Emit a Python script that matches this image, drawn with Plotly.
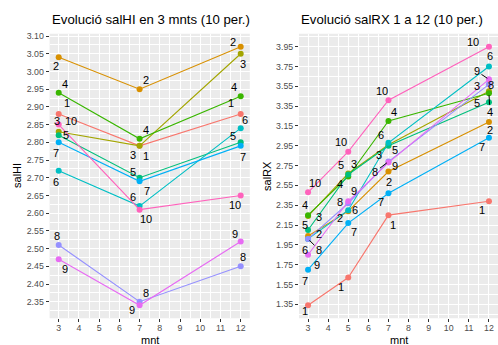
import plotly.graph_objects as go

# ---------------- data ----------------
persons = ['1', '2', '3', '4', '5', '6', '7', '8', '9', '10']
months_hi = [3, 7, 12]
months_rx = [3, 5, 7, 12]

salHI_m3 = [2.88, 3.04, 2.83, 2.94, 2.82, 2.72, 2.80, 2.51, 2.47, 2.85]
salHI_m7 = [2.79, 2.95, 2.79, 2.81, 2.70, 2.62, 2.69, 2.35, 2.34, 2.61]
salHI_m12 = [2.88, 3.07, 3.05, 2.93, 2.80, 2.84, 2.79, 2.45, 2.52, 2.65]

salRX_m3 = [1.34, 2.04, 2.24, 2.25, 2.10, 2.01, 1.70, 2.01, 1.85, 2.48]
salRX_m5 = [1.62, 2.29, 2.67, 2.64, 2.66, 2.30, 2.17, 2.37, 2.39, 2.89]
salRX_m7 = [2.25, 2.69, 2.96, 3.20, 2.95, 2.98, 2.47, 2.79, 2.78, 3.41]
salRX_m12 = [2.39, 3.19, 3.50, 3.48, 3.39, 3.75, 3.03, 3.57, 3.62, 3.95]

title_hi = 'Evolució salHI en 3 mnts (10 per.)'
title_rx = 'Evolució salRX 1 a 12 (10 per.)'

# ---------------- styles ----------------
colors = ['#F8766D', '#D89000', '#A3A500', '#39B600', '#00BF7D',
          '#00BFC4', '#00B0F6', '#9590FF', '#E76BF3', '#FF62BC']
FONT = 'Liberation Sans, Arial, Helvetica, sans-serif'
W, H = 498, 345

# label offsets in pixels (dx right, dy down), per month, per person (repel-like)
off_hi = [
    [(8, -11), (-3, 9), (-2, -11), (6, -9), (7, 0), (-3, 11), (-3, 11), (-2, -9), (6, 10), (12, -4)],
    [(6, 10), (6, -9), (-7, 9), (6, -9), (-7, -6), (-7, -9), (7, 10), (6, -9), (-8, 5), (6, 9)],
    [(-10, -11), (-8, -5), (2, 10), (-7, -9), (-8, -6), (4, -8), (2, 11), (2, -9), (-6, -8), (-6, 10)],
]
off_rx = [
    [(-3, 6), (11, -2), (11, 1), (-3, -10), (-3, -5), (-3, 11), (-3, 11), (11, 11), (9, 10), (7, -9)],
    [(-7, 9), (-8, 7), (6, -10), (-8, 8), (-7, -10), (7, 0), (6, 9), (-8, -1), (6, -10), (-7, -10)],
    [(5, 10), (1, 10), (-9, 10), (6, -9), (7, 4), (-7, -8), (-7, 9), (-13, 10), (7, 3), (-6, -9)],
    [(-7, 9), (1, 8), (-12, -5), (1, 19), (-12, 1), (1, -10), (-7, 9), (2, 1), (-12, -8), (-16, -5)],
]
segments_rx = {(0, 7), (2, 7), (3, 3), (3, 8)}  # (month index, person index)

hi_cols = [salHI_m3, salHI_m7, salHI_m12]
rx_cols = [salRX_m3, salRX_m5, salRX_m7, salRX_m12]


def expand(vals, f=0.05):
    lo, hi = min(vals), max(vals)
    pad = (hi - lo) * f
    return [lo - pad, hi + pad]


fig = go.Figure()
for i, p in enumerate(persons):
    fig.add_trace(go.Scatter(
        x=months_hi, y=[c[i] for c in hi_cols], mode='lines+markers',
        line=dict(color=colors[i], width=1.1), marker=dict(size=6, color=colors[i]),
        xaxis='x', yaxis='y', showlegend=False, name=p))
for i, p in enumerate(persons):
    fig.add_trace(go.Scatter(
        x=months_rx, y=[c[i] for c in rx_cols], mode='lines+markers',
        line=dict(color=colors[i], width=1.1), marker=dict(size=6, color=colors[i]),
        xaxis='x2', yaxis='y2', showlegend=False, name=p))

ann = []
for m, col in enumerate(hi_cols):
    for i, p in enumerate(persons):
        dx, dy = off_hi[m][i]
        ann.append(dict(x=months_hi[m], y=col[i], xref='x', yref='y', text=p,
                        showarrow=False, xshift=dx, yshift=-dy,
                        font=dict(family=FONT, size=11, color='black')))
for m, col in enumerate(rx_cols):
    for i, p in enumerate(persons):
        dx, dy = off_rx[m][i]
        if (m, i) in segments_rx:
            ann.append(dict(x=months_rx[m], y=col[i], xref='x2', yref='y2', text=p,
                            showarrow=True, ax=dx, ay=dy, arrowhead=0, arrowwidth=1,
                            arrowcolor='black', standoff=2,
                            font=dict(family=FONT, size=11, color='black')))
        else:
            ann.append(dict(x=months_rx[m], y=col[i], xref='x2', yref='y2', text=p,
                            showarrow=False, xshift=dx, yshift=-dy,
                            font=dict(family=FONT, size=11, color='black')))

# panel geometry (pixels)
L1, R1 = 49.6, 249.8
L2, R2 = 299.0, 498.0
TOP, BOT = 31.0, 318.0

# titles
ann.append(dict(x=L1 / W, y=1 - 17 / H, xref='paper', yref='paper', text=title_hi,
                showarrow=False, xanchor='left', yanchor='middle',
                font=dict(family=FONT, size=13.2, color='black')))
ann.append(dict(x=L2 / W, y=1 - 17 / H, xref='paper', yref='paper', text=title_rx,
                showarrow=False, xanchor='left', yanchor='middle',
                font=dict(family=FONT, size=13.2, color='black')))
# axis titles
ann.append(dict(x=17 / W, y=1 - ((TOP + BOT) / 2) / H, xref='paper', yref='paper', text='salHI',
                showarrow=False, textangle=-90, xanchor='center', yanchor='middle',
                font=dict(family=FONT, size=11, color='black')))
ann.append(dict(x=267 / W, y=1 - ((TOP + BOT) / 2) / H, xref='paper', yref='paper', text='salRX',
                showarrow=False, textangle=-90, xanchor='center', yanchor='middle',
                font=dict(family=FONT, size=11, color='black')))
ann.append(dict(x=((L1 + R1) / 2) / W, y=1 - 339.5 / H, xref='paper', yref='paper', text='mnt',
                showarrow=False, xanchor='center', yanchor='middle',
                font=dict(family=FONT, size=11, color='black')))
ann.append(dict(x=((L2 + R2) / 2) / W, y=1 - 339.5 / H, xref='paper', yref='paper', text='mnt',
                showarrow=False, xanchor='center', yanchor='middle',
                font=dict(family=FONT, size=11, color='black')))

common = dict(showline=False, zeroline=False, ticks='outside', ticklen=3, tickwidth=1,
              tickcolor='#333333', gridcolor='white', gridwidth=1.1,
              tickfont=dict(family=FONT, size=8.8, color='#4D4D4D'))

all_hi = [v for c in hi_cols for v in c]
all_rx = [v for c in rx_cols for v in c]

fig.update_layout(
    width=W, height=H, margin=dict(l=0, r=0, t=0, b=0),
    paper_bgcolor='white', plot_bgcolor='#EBEBEB',
    annotations=ann,
    xaxis=dict(domain=[L1 / W, R1 / W], range=expand(months_hi), tickmode='linear', tick0=3, dtick=1,
               anchor='y', ticklabelstandoff=-2,
               minor=dict(tick0=2.5, dtick=0.5, showgrid=True, gridcolor='white', gridwidth=0.5, ticks=''),
               **common),
    yaxis=dict(domain=[1 - BOT / H, 1 - TOP / H], range=expand(all_hi), tickmode='linear',
               tick0=2.35, dtick=0.05, tickformat='.2f', anchor='x',
               minor=dict(tick0=2.325, dtick=0.025, showgrid=True, gridcolor='white', gridwidth=0.5, ticks=''),
               **common),
    xaxis2=dict(domain=[L2 / W, R2 / W], range=expand(months_rx), tickmode='linear', tick0=3, dtick=1,
                anchor='y2', ticklabelstandoff=-2,
                minor=dict(tick0=2.5, dtick=0.5, showgrid=True, gridcolor='white', gridwidth=0.5, ticks=''),
                **common),
    yaxis2=dict(domain=[1 - BOT / H, 1 - TOP / H], range=expand(all_rx), tickmode='linear',
                tick0=1.35, dtick=0.2, tickformat='.2f', anchor='x2',
                minor=dict(tick0=1.25, dtick=0.1, showgrid=True, gridcolor='white', gridwidth=0.5, ticks=''),
                **common),
)

fig.write_html('out.html')
